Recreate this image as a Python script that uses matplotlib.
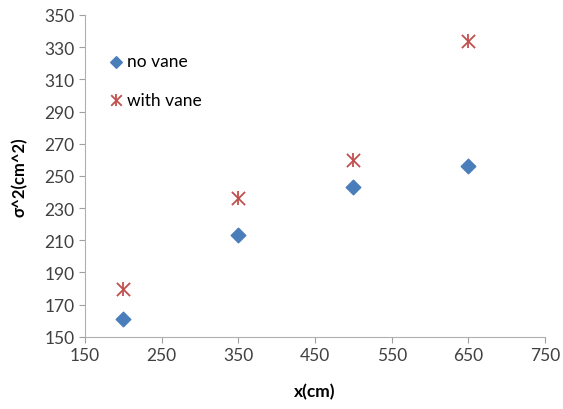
import matplotlib.pyplot as plt
from matplotlib.legend_handler import HandlerTuple

plt.rcParams['font.family'] = ['Lato', 'DejaVu Sans']

x = [200, 350, 500, 650]
no_vane = [161, 213, 243, 256]
with_vane = [180, 236, 260, 334]

blue = '#4a7ebb'
red = '#c0504d'

fig = plt.figure(figsize=(5.63, 4.10), dpi=100)
ax = fig.add_axes([0.151, 0.176, 0.817, 0.785])

d = ax.scatter(x, no_vane, marker='D', s=55, color=blue, zorder=3)
# excel style star = x plus a vertical bar
s1 = ax.scatter(x, with_vane, marker='x', s=90, color=red, linewidths=1.3, zorder=3)
s2 = ax.scatter(x, with_vane, marker='|', s=110, color=red, linewidths=1.3, zorder=3)

ax.set_xlim(150, 750)
ax.set_ylim(150, 350)
ax.set_xticks(range(150, 751, 100))
ax.set_yticks(range(150, 351, 20))
ax.tick_params(direction='out', length=4, color='#a0a0a0', labelsize=12.5, labelcolor='#404040')
for sp in ['top', 'right']:
    ax.spines[sp].set_visible(False)
for sp in ['left', 'bottom']:
    ax.spines[sp].set_color('#b0b0b0')

ax.set_xlabel('x(cm)', fontsize=12.5, fontweight='bold', labelpad=14)
ax.set_ylabel('σ^2(cm^2)', fontsize=12, fontweight='bold', labelpad=12)

ax.legend([d, (s1, s2)], ['no vane', 'with vane'], loc='upper left',
          bbox_to_anchor=(0.02, 0.93), frameon=False, fontsize=12.5,
          handler_map={tuple: HandlerTuple(ndivide=1, pad=0)},
          handlelength=0.7, handletextpad=0.3, labelspacing=1.3,
          scatterpoints=1, markerscale=0.8)

fig.savefig('out.png', dpi=100)
